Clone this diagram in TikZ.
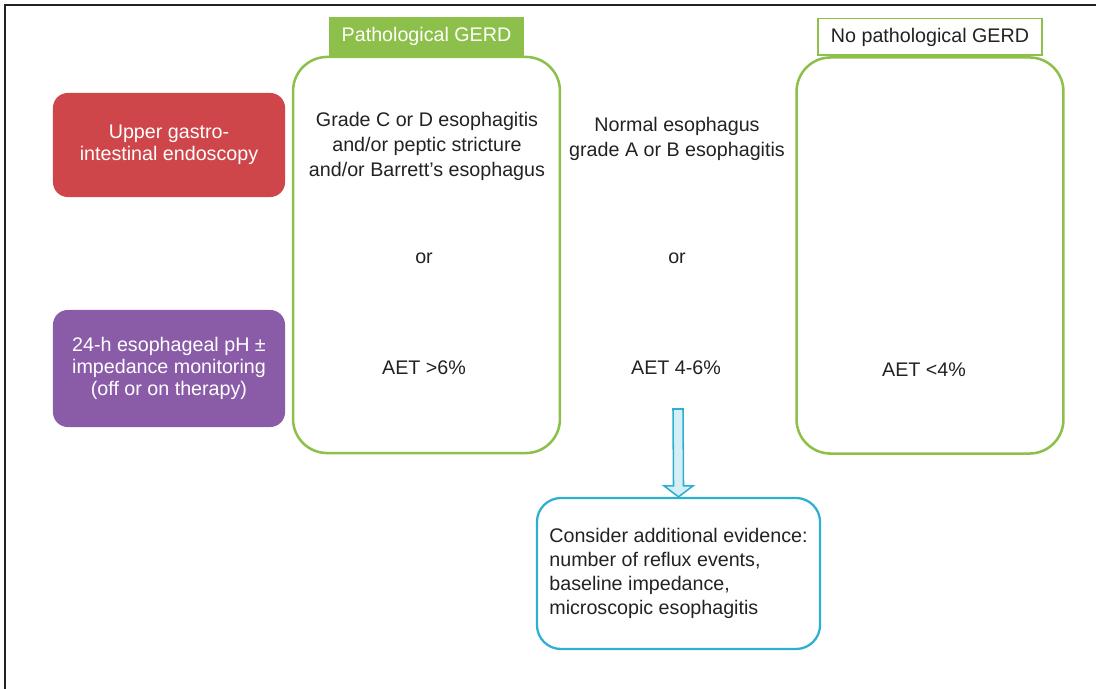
\documentclass[tikz,border=0pt]{standalone}
\usepackage{fontspec}
\setmainfont{Liberation Sans}
\usepackage{xcolor}
\usepackage{tikz}
\usetikzlibrary{arrows.meta,positioning,calc}
\definecolor{gerdred}{RGB}{206,69,74}
\definecolor{gerdpurple}{RGB}{138,92,168}
\definecolor{gerdgreen}{RGB}{141,192,74}
\definecolor{gerdblue}{RGB}{45,176,208}
\definecolor{gerdsky}{RGB}{214,238,246}
\definecolor{gerdtext}{RGB}{34,34,34}
\tikzset{
  testbox/.style={rounded corners=0.37cm, align=center, text=white, minimum width=5.8cm, inner sep=4pt, font=\fontsize{14}{15.8}\selectfont},
  resbox/.style={draw=gerdgreen, line width=1.8pt, rounded corners=0.85cm, minimum width=6.67cm, minimum height=9.9cm},
  tagbox/.style={draw=gerdgreen, line width=1.2pt, align=center, minimum height=0.92cm, inner sep=2pt, font=\fontsize{14}{17}\selectfont},
  txt/.style={align=center, text=gerdtext, font=\fontsize{14}{17.8}\selectfont},
  notebox/.style={draw=gerdblue, line width=1.6pt, rounded corners=0.6cm, align=left, text=gerdtext, minimum width=7.075cm, minimum height=3.775cm, font=\fontsize{14}{17}\selectfont},
  blockarrow/.style={draw=gerdblue, fill=gerdsky, line width=1.1pt, line join=miter}
}
\begin{document}
\begin{tikzpicture}[x=0.025cm, y=-0.025cm]
    \useasboundingbox (0,0) rectangle (1096,689);
    \draw[line width=1pt, gerdtext] (5,5) rectangle (1110,705);
    % tests
    \node[testbox, fill=gerdred, minimum height=2.6cm] (endo) at (169,145) {Upper gastro-\\intestinal endoscopy};
    \node[testbox, fill=gerdpurple, minimum height=2.925cm] (phmon) at (169,368.5) {24-h esophageal pH ±\\impedance monitoring\\(off or on therapy)};
    % result columns
    \node[resbox] (pgerd) at (426.5,255) {};
    \node[resbox] (nogerd) at (930,255.5) {};
    \node[tagbox, fill=gerdgreen, text=white, minimum width=4.85cm, above=0pt of pgerd] (ptag) {Pathological GERD};
    \node[tagbox, fill=white, text=gerdtext, minimum width=5.6cm, above=0pt of nogerd] (notag) {No pathological GERD};
    % endoscopy row
    \node[txt] (endoC) at (427,146) {Grade C or D esophagitis\\and/or peptic stricture\\and/or Barrett's esophagus};
    \node[txt] (endoA) at (677,139) {Normal esophagus\\grade A or B esophagitis};
    \node[txt] (orC) at (424,258) {or};
    \node[txt] (orA) at (677,258) {or};
    % pH row
    \node[txt] (aetH) at (424,368) {AET >6\%};
    \node[txt] (aetM) at (676,368) {AET 4-6\%};
    \node[txt] (aetL) at (924,370) {AET <4\%};
    % borderline zone
    \node[notebox] (evid) at (678.5,573.5) {Consider additional evidence:\\number of reflux events,\\baseline impedance,\\microscopic esophagitis};
    \coordinate (arrtop) at (678,409);
    \draw[blockarrow] ($(arrtop)+(-5,0)$) -- ($(evid.north)+(-5,-11)$) -- ($(evid.north)+(-14.5,-11)$) -- (evid.north)
      -- ($(evid.north)+(14.5,-11)$) -- ($(evid.north)+(5,-11)$) -- ($(arrtop)+(5,0)$) -- cycle;
  \end{tikzpicture}
\end{document}
